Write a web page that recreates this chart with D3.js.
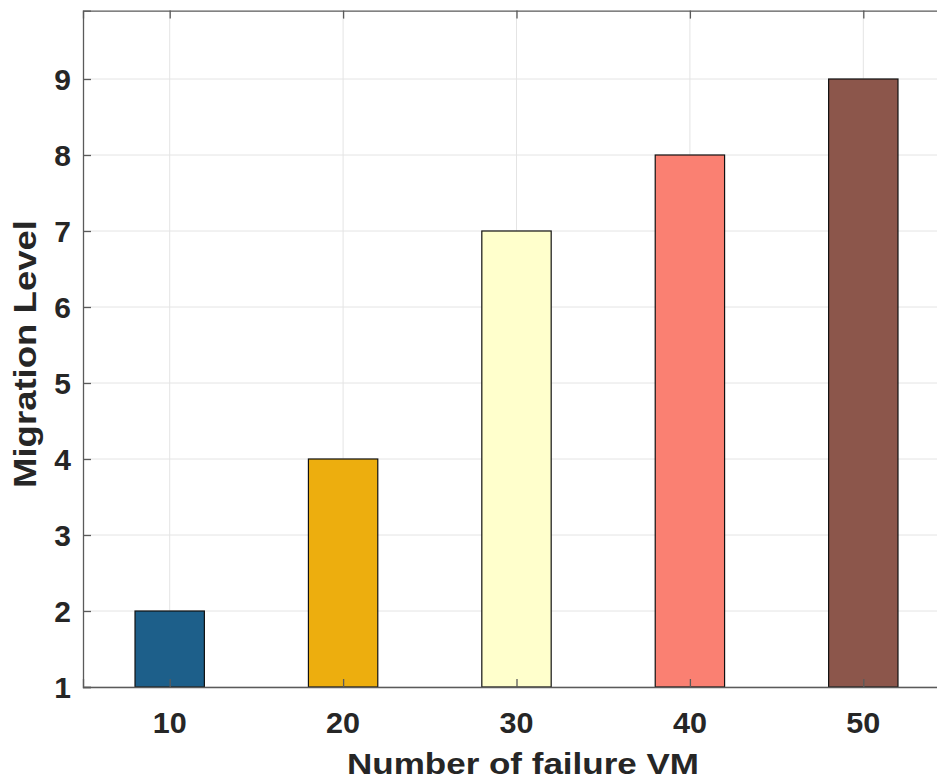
<!DOCTYPE html>
<html><head><meta charset="utf-8">
<script src="https://cdn.jsdelivr.net/npm/d3@7"></script>
<style>html,body{margin:0;padding:0;background:#fff;}svg{display:block;font-family:"Liberation Sans",Arial,sans-serif;}</style>
</head><body>
<svg id="c" width="937" height="781"></svg>
<script>
const categories = [10, 20, 30, 40, 50];
const values = [2, 4, 7, 8, 9];
const colors = ["#1d5f8a", "#edae0e", "#ffffcc", "#fa8072", "#8c564b"];
const yTicks = [1, 2, 3, 4, 5, 6, 7, 8, 9];
const xLabel = "Number of failure VM";
const yLabel = "Migration Level";

const svg = d3.select("#c");
const L = 83, R = 950, T = 10.6, B = 687;
const x = d3.scaleLinear().domain([5, 55]).range([L, R]);
const y = d3.scaleLinear().domain([1, 9.9]).range([B, T]);
const barW = x(4) - x(0);
const txt = "#262626", axc = "#5a5a5a";

// grid
const g = svg.append("g");
g.selectAll(".gx").data(categories).join("line")
  .attr("x1", d => x(d)).attr("x2", d => x(d)).attr("y1", T).attr("y2", B)
  .attr("stroke", "#e4e4e4").attr("stroke-width", 1);
g.selectAll(".gy").data(yTicks).join("line")
  .attr("x1", L).attr("x2", R).attr("y1", d => y(d)).attr("y2", d => y(d))
  .attr("stroke", "#e4e4e4").attr("stroke-width", 1);

// bars
svg.append("g").selectAll("rect").data(categories).join("rect")
  .attr("x", d => x(d) - barW / 2)
  .attr("width", barW)
  .attr("y", (d, i) => y(values[i]))
  .attr("height", (d, i) => y(1) - y(values[i]))
  .attr("fill", (d, i) => colors[i])
  .attr("stroke", "#111").attr("stroke-width", 1.2);

// axes (inward ticks)
const axB = d3.axisBottom(x).tickValues(categories).tickSize(-8).tickPadding(0).tickFormat("");
const axT = d3.axisTop(x).tickValues(categories).tickSize(-8).tickFormat("");
const axL = d3.axisLeft(y).tickValues(yTicks).tickSize(-8).tickFormat("");
const axR = d3.axisRight(y).tickValues(yTicks).tickSize(-8).tickFormat("");
[[axB, `translate(0,${B})`], [axT, `translate(0,${T})`], [axL, `translate(${L},0)`], [axR, `translate(${R},0)`]].forEach(([a, t]) => {
  const ga = svg.append("g").attr("transform", t).call(a);
  ga.select(".domain").attr("stroke", axc).attr("stroke-width", 1.3);
  ga.selectAll(".tick line").attr("stroke", axc).attr("stroke-width", 1.3);
});

// tick labels
svg.append("g").selectAll("text").data(categories).join("text")
  .attr("x", d => x(d)).attr("y", 733)
  .attr("text-anchor", "middle").attr("font-size", 30).attr("font-weight", "bold")
  .attr("fill", txt).attr("textLength", 34).attr("lengthAdjust", "spacingAndGlyphs").text(d => d);
svg.append("g").selectAll("text").data(yTicks).join("text")
  .attr("x", 71).attr("y", d => y(d)).attr("dy", "0.36em")
  .attr("text-anchor", "end").attr("font-size", 30).attr("font-weight", "bold")
  .attr("fill", txt).text(d => d);

// axis labels
svg.append("text").attr("x", 523).attr("y", 774)
  .attr("text-anchor", "middle").attr("font-size", 30).attr("font-weight", "bold")
  .attr("fill", txt).attr("textLength", 352).attr("lengthAdjust", "spacingAndGlyphs")
  .text(xLabel);
svg.append("text").attr("transform", "translate(36,354) rotate(-90)")
  .attr("text-anchor", "middle").attr("font-size", 32).attr("font-weight", "bold")
  .attr("fill", txt).attr("textLength", 268).attr("lengthAdjust", "spacingAndGlyphs")
  .text(yLabel);
</script>
</body></html>
